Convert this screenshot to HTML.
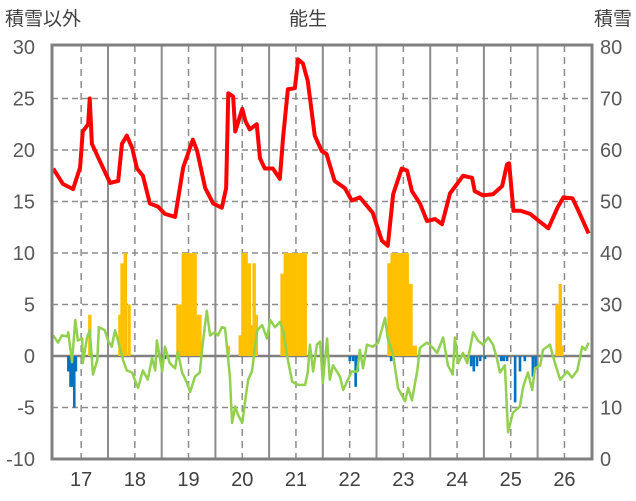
<!DOCTYPE html>
<html><head><meta charset="utf-8">
<style>
html,body{margin:0;padding:0;background:#fff;}
svg{display:block;font-family:"Liberation Sans","Noto Sans CJK JP",sans-serif;}
</style></head>
<body>
<svg id="chart" width="636" height="501" viewBox="0 0 636 501">
<text x="308" y="25" font-size="19" fill="#404040" text-anchor="middle">能生</text>
<text x="5" y="25" font-size="19" fill="#404040">積雪以外</text>
<text x="632" y="25" font-size="19" fill="#404040" text-anchor="end">積雪</text>
<g id="grid"></g>
<g id="bars"></g>
<g id="lines"></g>
<g id="axes"></g>
</svg>
<script>
const leftTicks=[30,25,20,15,10,5,0,-5,-10];
const rightTicks=[80,70,60,50,40,30,20,10,0];
const yearLabels=["17","18","19","20","21","22","23","24","25","26"];
const redT=[2016.98,2017.16,2017.35,2017.48,2017.53,2017.63,2017.66,2017.70,2017.85,2018.04,2018.19,2018.26,2018.35,2018.45,2018.54,2018.65,2018.78,2018.93,2019.06,2019.25,2019.40,2019.58,2019.66,2019.81,2019.96,2020.12,2020.20,2020.24,2020.33,2020.37,2020.50,2020.56,2020.64,2020.77,2020.83,2020.92,2021.07,2021.20,2021.26,2021.35,2021.48,2021.54,2021.63,2021.72,2021.85,2021.98,2022.07,2022.22,2022.41,2022.54,2022.69,2022.93,2023.10,2023.21,2023.31,2023.47,2023.57,2023.66,2023.81,2023.94,2024.09,2024.22,2024.37,2024.50,2024.61,2024.78,2024.83,2024.98,2025.17,2025.34,2025.43,2025.47,2025.55,2025.68,2025.86,2026.05,2026.20,2026.37,2026.48,2026.65,2026.76,2026.95];
const redV=[18.2,16.7,16.2,18.3,21.8,22.5,25,20.6,18.9,16.8,17,20.6,21.4,20.2,18.2,17.5,14.8,14.5,13.8,13.5,18.3,21,19.9,16.3,14.8,14.4,16.3,25.5,25.2,21.8,24,22.8,22,22.5,19.2,18.2,18.2,17.2,21.2,25.9,26,28.8,28.4,26.7,21.4,19.9,19.6,17,16.3,15.1,15.4,13.9,11.2,10.7,15.7,18.2,18,16,14.8,13.1,13.3,12.8,15.8,16.7,17.5,17.3,16,15.6,15.7,16.5,18.6,18.7,14.1,14.1,13.8,13,12.4,14.4,15.4,15.3,14.1,11.9];
const greenT=[2016.98,2017.07,2017.14,2017.24,2017.26,2017.33,2017.39,2017.44,2017.52,2017.53,2017.61,2017.66,2017.72,2017.80,2017.83,2017.94,2018.00,2018.07,2018.13,2018.17,2018.28,2018.35,2018.45,2018.50,2018.56,2018.65,2018.74,2018.82,2018.88,2018.91,2019.01,2019.06,2019.15,2019.25,2019.30,2019.38,2019.47,2019.53,2019.62,2019.71,2019.77,2019.84,2019.90,2019.99,2020.05,2020.12,2020.18,2020.22,2020.27,2020.31,2020.37,2020.42,2020.50,2020.55,2020.61,2020.68,2020.78,2020.87,2020.96,2021.02,2021.11,2021.20,2021.26,2021.35,2021.43,2021.54,2021.67,2021.72,2021.76,2021.82,2021.89,2021.95,2022.00,2022.08,2022.13,2022.19,2022.32,2022.38,2022.45,2022.54,2022.64,2022.69,2022.75,2022.82,2022.93,2023.03,2023.16,2023.21,2023.31,2023.40,2023.53,2023.59,2023.66,2023.76,2023.81,2023.94,2024.03,2024.13,2024.24,2024.33,2024.42,2024.46,2024.52,2024.61,2024.69,2024.80,2024.89,2024.98,2025.08,2025.17,2025.24,2025.30,2025.39,2025.45,2025.54,2025.67,2025.73,2025.82,2025.90,2025.95,2026.05,2026.10,2026.23,2026.29,2026.42,2026.55,2026.64,2026.74,2026.83,2026.89,2026.95];
const greenV=[2.0,1.3,2.0,1.9,2.3,-0.6,3.5,1.5,1.7,-0.7,1.8,2.5,-1.8,-0.4,2.8,2.5,1.5,0.9,2.5,1.8,-0.4,-1.4,-1.6,-2.3,-3.1,-1.4,-2.3,-0.2,-1.4,1.5,-1.5,0.9,-0.7,-1.2,0.4,-1.6,-2.6,-3.5,-2,-1.6,1.5,4.4,2,2.3,2,2.8,2.7,0.6,-2,-6.5,-4.9,-5.7,-6.5,-4.5,-2.3,-1.5,2.5,3,1.7,3.5,2.8,3.3,2.5,-0.4,-2.5,-2.8,-2.8,-1.6,1.1,-1.5,1.1,1.4,-2.6,1.7,-2.3,-0.9,-2,-3.3,-2.5,-1.5,-1.5,0.6,-1.2,1.1,0.9,1.3,3.7,1.7,0.1,-3.1,-4.4,-3.1,-4.3,-1.4,0.8,1.3,0.9,0.3,1.8,-0.9,-1.8,1.8,-0.7,0.3,-0.7,2.3,1.5,1.1,1.8,1.1,-0.2,-1.6,-0.9,-7.4,-5.5,-4.9,-3,-1.6,-3.3,-1.2,-0.9,0.6,1.1,-0.1,-2.3,-1.5,-2.1,-1.4,0.9,0.6,1.3];
const snowT=[2017.66,2018.22,2018.26,2018.32,2018.39,2019.30,2019.34,2019.40,2019.45,2019.51,2019.56,2019.62,2019.68,2019.71,2020.24,2020.46,2020.51,2020.57,2020.63,2020.66,2020.72,2020.76,2021.24,2021.30,2021.35,2021.41,2021.46,2021.52,2021.58,2021.63,2021.67,2023.23,2023.29,2023.34,2023.40,2023.46,2023.51,2023.57,2023.61,2023.64,2023.68,2023.72,2026.36,2026.42,2026.45];
const snowV=[28,28,38,40,30,30,30,40,40,40,40,40,28,28,22,24,40,40,38,26,38,28,36,40,40,40,40,40,40,40,40,38,40,40,40,40,40,40,34,34,22,22,30,34,22];
const negT=[2017.26,2017.30,2017.33,2017.37,2017.40,2019.06,2022.50,2022.56,2022.61,2022.65,2023.27,2024.76,2024.81,2024.87,2024.93,2025.02,2025.32,2025.37,2025.43,2025.58,2025.67,2025.76,2025.91,2025.96];
const negV=[-1.5,-3,-3,-5,-1.5,-0.3,-0.5,-0.5,-3,-1.5,-0.5,-1,-1.5,-1,-0.5,-0.3,-0.5,-0.5,-0.5,-4.5,-1.5,-0.5,-2,-1.3];

const NS="http://www.w3.org/2000/svg";
const L=52,R=592,T=45,B=459;
const X=t=>54.3+(t-2017)*53.7;
const YL=v=>356-(v*10.3);
const YR=v=>YL(v/2-10);
function mk(tag,attrs,parent){const e=document.createElementNS(NS,tag);for(const k in attrs)e.setAttribute(k,attrs[k]);parent.appendChild(e);return e;}
const grid=document.getElementById('grid'),bars=document.getElementById('bars'),lines=document.getElementById('lines'),axes=document.getElementById('axes');

leftTicks.forEach(v=>{
  const y=YL(v);
  if(v!==0&&v!==30&&v!==-10){const g=mk('line',{x1:L,x2:R,y1:y,y2:y,stroke:'#8c8c8c','stroke-width':1.5,'stroke-dasharray':'6,4'},grid);
  
  }
  const t=mk('text',{x:35,y:y+7,'font-size':20,fill:'#595959','text-anchor':'end'},axes);
  t.textContent=v;
  
  
});
rightTicks.forEach(v=>{
  const t=mk('text',{x:600,y:YR(v)+7,'font-size':20,fill:'#595959'},axes);
  t.textContent=v;
  
  
});
yearLabels.forEach((s,i)=>{
  const yr=2017+i;
  const xm=X(yr+0.5);
  const d=mk('line',{x1:xm,x2:xm,y1:T,y2:B,stroke:'#8c8c8c','stroke-width':1.5,'stroke-dasharray':'7,5'},grid);
  
  
  if(i>0){const xb=X(yr);const s2=mk('line',{x1:xb,x2:xb,y1:T,y2:B,stroke:'#8c8c8c','stroke-width':2},grid);
  
  }
  const t=mk('text',{x:xm,y:486,'font-size':20,fill:'#404040','text-anchor':'middle'},axes);
  t.textContent=s;
  
  
});
snowT.forEach((t,i)=>{
  const y=YR(snowV[i]);
  const r=mk('rect',{x:X(t)-1.6,y:y,width:3.4,height:YL(0)-y,fill:'#ffc000'},bars);
  
  
});
negT.forEach((t,i)=>{
  const r=mk('rect',{x:X(t)-1.2,y:YL(0),width:2.6,height:YL(negV[i])-YL(0),fill:'#0070c0'},bars);
  
  
});
const z=mk('line',{x1:L,x2:R,y1:YL(0),y2:YL(0),stroke:'#808080','stroke-width':2.5},grid);


const gp=mk('polyline',{points:greenT.map((t,i)=>X(t)+','+YL(greenV[i])).join(' '),fill:'none',stroke:'#92d050','stroke-width':2.5,'stroke-linejoin':'round'},lines);


const rp=mk('polyline',{points:redT.map((t,i)=>X(t)+','+YL(redV[i])).join(' '),fill:'none',stroke:'#ff0000','stroke-width':4,'stroke-linejoin':'round'},lines);


const fr=mk('rect',{x:L,y:T,width:R-L,height:B-T,fill:'none',stroke:'#808080','stroke-width':3},axes);


</script>
</body></html>
